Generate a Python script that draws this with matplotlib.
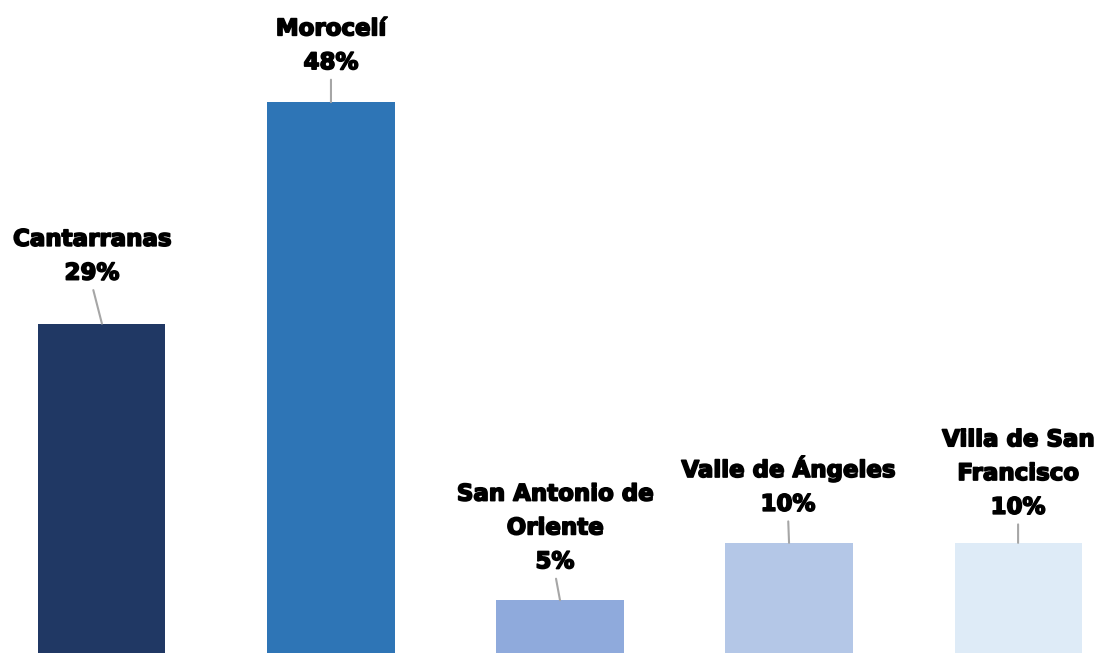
import matplotlib
matplotlib.use("Agg")
import matplotlib.pyplot as plt
import matplotlib.patheffects as pe

categories = ["Cantarranas", "Morocelí", "San Antonio de\nOriente", "Valle de Ángeles", "Villa de San\nFrancisco"]
values = [28.7, 48.0, 4.6, 9.6, 9.6]
colors = ["#203864", "#2E75B6", "#8FAADC", "#B4C7E7", "#DEEBF7"]
label_dx = [-10, 0, -5, -1, 0]
label_gap = [39, 28, 27, 27, 24]

fig = plt.figure(figsize=(11.01, 6.53), dpi=100)
ax = fig.add_axes([0, 0, 1, 1])
x = list(range(len(values)))
ax.bar(x, values, width=0.555, color=colors)
ax.set_xlim(-0.445, 4.362)
ax.set_ylim(0, 56.9)
ax.axis("off")

for i, (c, v) in enumerate(zip(categories, values)):
    ax.annotate(f"{c}\n{int(v + 0.5)}%", xy=(i, v), xycoords="data",
                xytext=(label_dx[i], label_gap[i]), textcoords="offset pixels",
                ha="center", va="bottom", fontsize=16.5, fontweight="bold",
                family="DejaVu Sans", linespacing=1.6, color="black",
                path_effects=[pe.withStroke(linewidth=1.2, foreground="black")],
                arrowprops=dict(arrowstyle="-", color="#A6A6A6", lw=1.5,
                                shrinkA=2, shrinkB=0, relpos=(0.5, 0)))

fig.savefig("out.png", dpi=100)
